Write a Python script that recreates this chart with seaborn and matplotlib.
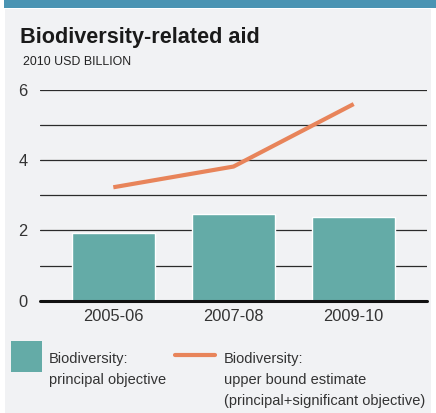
import matplotlib
matplotlib.use("Agg")
import matplotlib.pyplot as plt
from matplotlib.patches import Rectangle
from matplotlib.lines import Line2D
import seaborn as sns
import pandas as pd

periods = ["2005-06", "2007-08", "2009-10"]
principal = [1.93, 2.47, 2.38]
upper_bound = [3.23, 3.82, 5.6]
y_ticks = [0, 2, 4, 6]

title = "Biodiversity-related aid"
unit_label = "2010 USD BILLION"
legend_bar = ["Biodiversity:", "principal objective"]
legend_line = ["Biodiversity:", "upper bound estimate", "(principal+significant objective)"]

TEAL = "#64aba7"
ORANGE = "#e8845a"
BG = "#f1f2f4"
BLUE = "#4a94b3"

sns.set_theme(style="white")
plt.rcParams["font.family"] = ["Liberation Sans", "DejaVu Sans"]

W, H = 436, 413
fig = plt.figure(figsize=(W / 100, H / 100), dpi=100)
fig.patch.set_facecolor("white")

# background panels
fig.add_artist(Rectangle((5 / W, 0), (431 - 5) / W, 1 - 9 / H, transform=fig.transFigure,
                         facecolor=BG, edgecolor="none", zorder=-10))
fig.add_artist(Rectangle((4 / W, 1 - 8 / H), 1, 8 / H, transform=fig.transFigure,
                         facecolor=BLUE, edgecolor="none", zorder=-9))

ax_left, ax_right, ax_top, ax_bot = 40, 427, 90, 300.7
ax = fig.add_axes([ax_left / W, (H - ax_bot) / H, (ax_right - ax_left) / W, (ax_bot - ax_top) / H])
ax.set_facecolor("none")

df = pd.DataFrame({"period": periods, "principal": principal, "upper": upper_bound})
sns.barplot(data=df, x="period", y="principal", color=TEAL, saturation=1, width=0.69,
            ax=ax, zorder=3)
sns.lineplot(data=df, x="period", y="upper", color=ORANGE, lw=3.0, sort=False, ax=ax,
             zorder=4)
for l in ax.lines:
    l.set_solid_capstyle("butt")

ax.set_xlim(-0.61, 2.61)
ax.set_ylim(0, 6)
ax.set_yticks(y_ticks)
ax.set_yticks([1, 3, 5], minor=True)
ax.grid(axis="y", which="both", color="#2b2b2b", lw=0.9, zorder=1)
ax.grid(axis="x", visible=False)
ax.axhline(0, color="#111111", lw=2.2, zorder=5, clip_on=False)
for s in ax.spines.values():
    s.set_visible(False)
ax.set_xlabel("")
ax.set_ylabel("")
ax.tick_params(axis="both", which="both", length=0, labelsize=11.8, labelcolor="#333333")
ax.tick_params(axis="y", pad=9)
ax.tick_params(axis="x", pad=6)

fig.text(20 / W, (H - 43) / H, title, fontsize=15.6, fontweight="bold",
         color="#1a1a1a", va="baseline")
fig.text(23 / W, (H - 65) / H, unit_label, fontsize=8.9, color="#222222", va="baseline")

# legend
fig.add_artist(Rectangle((11 / W, (H - 372) / H), 31 / W, 31 / H, transform=fig.transFigure,
                         facecolor=TEAL, edgecolor="none"))
fig.add_artist(Line2D([175 / W, 215 / W], [(H - 355) / H] * 2, transform=fig.transFigure,
                      color=ORANGE, lw=3.0, solid_capstyle="round"))
for i, t in enumerate(legend_bar):
    fig.text(49 / W, (H - 363 - 21 * i) / H, t, fontsize=10.5, color="#333333", va="baseline")
for i, t in enumerate(legend_line):
    fig.text(224 / W, (H - 363 - 21 * i) / H, t, fontsize=10.5, color="#333333", va="baseline")

fig.savefig("out.png", dpi=100, facecolor=fig.get_facecolor())
